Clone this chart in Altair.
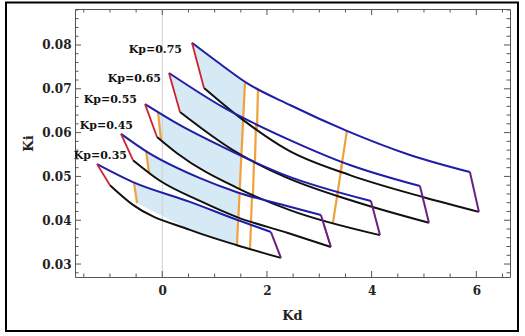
import altair as alt
import pandas as pd

# Proportional gains, one stability region each
kp_list = [0.35, 0.45, 0.55, 0.65, 0.75]

# Upper boundary (blue) of each region
upper_kd = {
    0.75: [0.567, 1.102, 1.618, 2.439, 3.527, 4.732, 5.878],
    0.65: [0.128, 1.160, 2.439, 3.586, 4.923],
    0.55: [-0.330, 0.338, 1.160, 2.344, 3.987],
    0.45: [-0.789, -0.292, 0.720, 1.427, 2.401, 3.031],
    0.35: [-1.247, -0.560, 0.529, 1.427, 2.076],
}
upper_ki = {
    0.75: [0.0805, 0.0757, 0.0713, 0.0663, 0.0604, 0.0549, 0.0510],
    0.65: [0.0736, 0.0658, 0.0583, 0.0526, 0.0478],
    0.55: [0.0665, 0.0617, 0.0567, 0.0503, 0.0444],
    0.45: [0.0597, 0.0556, 0.0496, 0.0464, 0.0432, 0.0412],
    0.35: [0.0528, 0.0487, 0.0442, 0.0401, 0.0373],
}

# Lower boundary (black) of each region
lower_kd = {
    0.75: [0.797, 1.542, 2.401, 3.586, 4.980, 6.050],
    0.65: [0.338, 1.350, 2.344, 3.586, 5.095],
    0.55: [-0.101, 0.281, 1.427, 2.439, 4.159],
    0.45: [-0.560, -0.044, 0.720, 1.427, 2.401, 3.222],
    0.35: [-1.000, -0.560, 0.529, 1.427, 2.267],
}
lower_ki = {
    0.75: [0.0702, 0.0629, 0.0560, 0.0503, 0.0453, 0.0419],
    0.65: [0.0647, 0.0560, 0.0499, 0.0446, 0.0394],
    0.55: [0.0590, 0.0553, 0.0474, 0.0423, 0.0366],
    0.45: [0.0537, 0.0490, 0.0444, 0.0407, 0.0371, 0.0339],
    0.35: [0.0480, 0.0435, 0.0378, 0.0343, 0.0314],
}

# Orange cuts: (kd_top, ki_top, kd_bottom, ki_bottom)
left_cut = {
    0.55: (-0.082, 0.0647, -0.025, 0.0583),
    0.45: (-0.311, 0.0560, -0.254, 0.0508),
    0.35: (-0.541, 0.0487, -0.483, 0.0439),
}
cut_a = {
    0.75: (1.580, 0.0713, 1.544, 0.0627),
    0.65: (1.548, 0.0636, 1.513, 0.0551),
    0.55: (1.511, 0.0549, 1.480, 0.0471),
    0.45: (1.477, 0.0462, 1.454, 0.0406),
    0.35: (1.450, 0.0401, 1.427, 0.0343),
}
cut_b = {
    0.75: (1.828, 0.0700, 1.810, 0.0608),
    0.65: (1.790, 0.0622, 1.771, 0.0535),
    0.55: (1.752, 0.0535, 1.733, 0.0458),
    0.45: (1.714, 0.0455, 1.695, 0.0396),
    0.35: (1.695, 0.0389, 1.675, 0.0334),
}
cut_c = {
    0.75: (3.527, 0.0604, 3.405, 0.0508),
    0.65: (3.440, 0.0533, 3.337, 0.0453),
    0.55: (3.356, 0.0467, 3.260, 0.0394),
}
cut_small = {0.45: (3.090, 0.0389, 3.210, 0.0343)}

# Region labels
label_text = ["Kp=0.35", "Kp=0.45", "Kp=0.55", "Kp=0.65", "Kp=0.75"]
label_kd = [-0.675, -0.560, -0.483, -0.025, 0.376]
label_ki = [0.0547, 0.0615, 0.0674, 0.0722, 0.0789]

# Frame ticks
x_major = [0, 2, 4, 6]
x_minor = [-1.5, -1, -0.5, 0.5, 1, 1.5, 2.5, 3, 3.5, 4.5, 5, 5.5, 6.5]
y_major = [0.03, 0.04, 0.05, 0.06, 0.07, 0.08]
y_minor = [0.028, 0.032, 0.034, 0.036, 0.038, 0.042, 0.044, 0.046, 0.048,
           0.052, 0.054, 0.056, 0.058, 0.062, 0.064, 0.066, 0.068, 0.072,
           0.074, 0.076, 0.078, 0.082, 0.084, 0.086, 0.088]

KD_DOMAIN = [-1.668, 6.644]
KI_DOMAIN = [0.02704, 0.08821]
W, H = 435, 268
FONT = "DejaVu Serif"
FRAME = "#555555"
BLUE, BLACK, RED, PURPLE = "#1e1ea8", "#111111", "#d0202e", "#6a1f82"

# ---- tables ----
def curve_table(kds_by_kp, kis_by_kp):
    rows = []
    for kp in kp_list:
        for i, (kd, ki) in enumerate(zip(kds_by_kp[kp], kis_by_kp[kp])):
            rows.append({"kp": kp, "i": i, "kd": kd, "ki": ki})
    return pd.DataFrame(rows)


upper = curve_table(upper_kd, upper_ki)
lower = curve_table(lower_kd, lower_ki)

left_edges = pd.DataFrame([{"kd": upper_kd[kp][0], "ki": upper_ki[kp][0],
                            "kd2": lower_kd[kp][0], "ki2": lower_ki[kp][0]}
                           for kp in kp_list])
right_edges = pd.DataFrame([{"kd": upper_kd[kp][-1], "ki": upper_ki[kp][-1],
                             "kd2": lower_kd[kp][-1], "ki2": lower_ki[kp][-1]}
                            for kp in kp_list])

cut_rows = []
for group in (left_cut, cut_a, cut_b, cut_c):
    for kp, (a, b, c, d) in group.items():
        cut_rows.append({"kd": a, "ki": b, "kd2": c, "ki2": d})
cuts = pd.DataFrame(cut_rows)
small = pd.DataFrame([{"kd": a, "ki": b, "kd2": c, "ki2": d}
                      for (a, b, c, d) in cut_small.values()])

# Shaded part of each region: from its left boundary to the first orange cut
fill_rows = []
for kp in kp_list:
    if kp in left_cut:
        lt = left_cut[kp][:2]
        lb = left_cut[kp][2:]
    else:
        lt = (upper_kd[kp][0], upper_ki[kp][0])
        lb = (lower_kd[kp][0], lower_ki[kp][0])
    rt = cut_a[kp][:2]
    rb = cut_a[kp][2:]
    pts = [lt]
    pts += [(k, v) for k, v in zip(upper_kd[kp], upper_ki[kp]) if lt[0] < k < rt[0]]
    pts += [rt, rb]
    pts += [(k, v) for k, v in reversed(list(zip(lower_kd[kp], lower_ki[kp])))
            if lb[0] < k < rb[0]]
    pts += [lb]
    for i, (k, v) in enumerate(pts):
        fill_rows.append({"kp": kp, "i": i, "kd": k, "ki": v})
fills = pd.DataFrame(fill_rows)

labels = pd.DataFrame({"text": label_text, "kd": label_kd, "ki": label_ki})

# ---- scales / axes ----
x_scale = alt.Scale(domain=KD_DOMAIN, nice=False, zero=False)
y_scale = alt.Scale(domain=KI_DOMAIN, nice=False, zero=False)

x_axis = alt.Axis(values=x_major, format="d", grid=False, ticks=False, domain=False,
                  labelFont=FONT, labelFontWeight="bold", labelFontSize=12,
                  labelColor="#222222", labelPadding=8,
                  title="Kd", titleFont=FONT, titleFontWeight="bold", titleFontSize=13,
                  titleColor="#222222", titleX=217, titleY=38,
                  titleBaseline="middle", titleAlign="center")
y_axis = alt.Axis(values=y_major, format=".2f", grid=False, ticks=False, domain=False,
                  labelFont=FONT, labelFontWeight="bold", labelFontSize=12,
                  labelColor="#222222", labelPadding=4,
                  title="Ki", titleFont=FONT, titleFontWeight="bold", titleFontSize=13,
                  titleColor="#222222", titleAngle=270, titleX=-47, titleY=134,
                  titleBaseline="middle", titleAlign="center")

X = alt.X("kd:Q", scale=x_scale, axis=x_axis)
Y = alt.Y("ki:Q", scale=y_scale, axis=y_axis)

fill_layer = alt.Chart(fills).mark_line(
    fill="#d6eaf6", strokeOpacity=0, interpolate="linear-closed"
).encode(x=X, y=Y, detail="kp:N", order="i:Q")

zero_line = alt.Chart(pd.DataFrame({"kd": [0]})).mark_rule(
    color="#cfcfcf", strokeWidth=1
).encode(x=X)

cut_layer = alt.Chart(cuts).mark_rule(color="#f2a03a", strokeWidth=2.2).encode(
    x=X, y=Y, x2="kd2:Q", y2="ki2:Q")
small_layer = alt.Chart(small).mark_rule(color="#e8652e", strokeWidth=1.6).encode(
    x=X, y=Y, x2="kd2:Q", y2="ki2:Q")

upper_layer = alt.Chart(upper).mark_line(
    color=BLUE, strokeWidth=2, interpolate="monotone"
).encode(x=X, y=Y, detail="kp:N", order="i:Q")
lower_layer = alt.Chart(lower).mark_line(
    color=BLACK, strokeWidth=2, interpolate="monotone"
).encode(x=X, y=Y, detail="kp:N", order="i:Q")

left_layer = alt.Chart(left_edges).mark_rule(color=RED, strokeWidth=1.8).encode(
    x=X, y=Y, x2="kd2:Q", y2="ki2:Q")
right_layer = alt.Chart(right_edges).mark_rule(color=PURPLE, strokeWidth=2).encode(
    x=X, y=Y, x2="kd2:Q", y2="ki2:Q")

label_layer = alt.Chart(labels).mark_text(
    align="right", baseline="middle", font=FONT, fontWeight="bold",
    fontSize=11, color="#111111"
).encode(x=X, y=Y, text="text:N")


# inward frame ticks on all four sides
def y_ticks(vals, length):
    df = pd.DataFrame({"ki": vals})
    left = alt.Chart(df).mark_rule(color=FRAME, strokeWidth=1).encode(
        y=Y, x=alt.value(0), x2=alt.value(length))
    right = alt.Chart(df).mark_rule(color=FRAME, strokeWidth=1).encode(
        y=Y, x=alt.value(W), x2=alt.value(W - length))
    return [left, right]


def x_ticks(vals, length):
    df = pd.DataFrame({"kd": vals})
    bottom = alt.Chart(df).mark_rule(color=FRAME, strokeWidth=1).encode(
        x=X, y=alt.value(H), y2=alt.value(H - length))
    top = alt.Chart(df).mark_rule(color=FRAME, strokeWidth=1).encode(
        x=X, y=alt.value(0), y2=alt.value(length))
    return [bottom, top]


tick_layers = (y_ticks(y_major, 6) + y_ticks(y_minor, 3.5)
               + x_ticks(x_major, 6) + x_ticks(x_minor, 3.5))

border = alt.Chart(pd.DataFrame({"a": [0]})).mark_rect(
    filled=False, stroke="#000000", strokeWidth=2
).encode(x=alt.value(-69), x2=alt.value(443), y=alt.value(-6.5), y2=alt.value(322))

chart = alt.layer(
    fill_layer, zero_line, cut_layer, small_layer, lower_layer, upper_layer,
    left_layer, right_layer, label_layer, *tick_layers, border
).properties(
    width=W, height=H, autosize="none",
    padding={"left": 75, "top": 9, "right": 15, "bottom": 59},
    background="white",
).configure_view(stroke=FRAME, strokeWidth=1)

chart.save("out.html", embed_options={"renderer": "svg", "actions": False})
